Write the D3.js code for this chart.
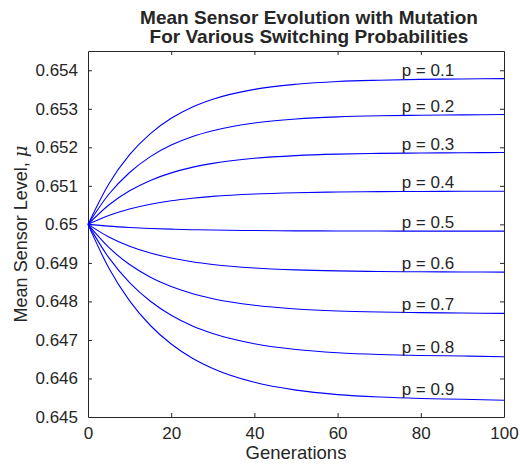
<!DOCTYPE html>
<html>
<head>
<meta charset="utf-8">
<script src="https://cdn.jsdelivr.net/npm/d3@7"></script>
<style>
  body { margin: 0; background: #fff; }
  text { font-family: "Liberation Sans", Arial, Helvetica, sans-serif; fill: #262626; }
</style>
</head>
<body>
<div id="chart"></div>
<script>
// generations sampled along each curve
const generations = [0, 5, 10, 15, 20, 25, 30, 40, 50, 60, 70, 80, 90, 100];

// mean sensor level for each switching probability
const p01 = [0.65, 0.65105, 0.651809, 0.652357, 0.652753, 0.653039, 0.653247, 0.653504, 0.653636, 0.653708, 0.653742, 0.653763, 0.653773, 0.653784];
const p02 = [0.65, 0.650781, 0.651347, 0.651759, 0.652058, 0.652275, 0.652432, 0.65263, 0.652734, 0.652789, 0.652818, 0.652833, 0.652841, 0.65285];
const p03 = [0.65, 0.650504, 0.650872, 0.65114, 0.651336, 0.651479, 0.651583, 0.651715, 0.651785, 0.651822, 0.651842, 0.651853, 0.651858, 0.651865];
const p04 = [0.65, 0.65023, 0.650398, 0.650521, 0.650612, 0.650678, 0.650727, 0.650789, 0.650822, 0.65084, 0.65085, 0.650855, 0.650858, 0.650861];
const p05 = [0.65, 0.649954, 0.64992, 0.649894, 0.649876, 0.649862, 0.649852, 0.649839, 0.649832, 0.649829, 0.649826, 0.649825, 0.649825, 0.649824];
const p06 = [0.65, 0.649674, 0.649434, 0.649257, 0.649126, 0.64903, 0.648959, 0.648868, 0.648819, 0.648792, 0.648777, 0.648769, 0.648765, 0.64876];
const p07 = [0.65, 0.649401, 0.648957, 0.648629, 0.648385, 0.648205, 0.648071, 0.647899, 0.647804, 0.647752, 0.647724, 0.647708, 0.647699, 0.647689];
const p08 = [0.65, 0.649135, 0.648487, 0.648003, 0.64764, 0.647369, 0.647166, 0.646901, 0.646752, 0.646669, 0.646622, 0.646596, 0.646582, 0.646563];
const p09 = [0.65, 0.648867, 0.648016, 0.647375, 0.646894, 0.646531, 0.646259, 0.6459, 0.645697, 0.645582, 0.645518, 0.645481, 0.64546, 0.645433];

const probLabels = ["p = 0.1", "p = 0.2", "p = 0.3", "p = 0.4", "p = 0.5", "p = 0.6", "p = 0.7", "p = 0.8", "p = 0.9"];
const seriesList = [p01, p02, p03, p04, p05, p06, p07, p08, p09];

const xTicks = [0, 20, 40, 60, 80, 100];
const yTicks = [0.645, 0.646, 0.647, 0.648, 0.649, 0.65, 0.651, 0.652, 0.653, 0.654];

const width = 520, height = 464;
const margin = {top: 51, right: 16, bottom: 47, left: 88};

const svg = d3.select("#chart").append("svg")
    .attr("width", width)
    .attr("height", height);

const x = d3.scaleLinear().domain([0, 100]).range([margin.left, width - margin.right]);
const y = d3.scaleLinear().domain([0.645, 0.6545]).range([height - margin.bottom, margin.top]);

// axes, ticks pointing inward like matlab
const tickLen = 4;
const fmt = d => d3.format("")(+d.toFixed(3));

const xAxis = svg.append("g")
    .attr("transform", `translate(0,${y.range()[0]})`)
    .call(d3.axisBottom(x).tickValues(xTicks).tickSizeInner(-tickLen).tickSizeOuter(0).tickPadding(9.5));
const xTop = svg.append("g")
    .attr("transform", `translate(0,${y.range()[1]})`)
    .call(d3.axisTop(x).tickValues(xTicks).tickSizeInner(-tickLen).tickSizeOuter(0).tickFormat(""));
const yAxis = svg.append("g")
    .attr("transform", `translate(${x.range()[0]},0)`)
    .call(d3.axisLeft(y).tickValues(yTicks).tickSizeInner(-tickLen).tickSizeOuter(0).tickPadding(10).tickFormat(fmt));
const yRight = svg.append("g")
    .attr("transform", `translate(${x.range()[1]},0)`)
    .call(d3.axisRight(y).tickValues(yTicks).tickSizeInner(-tickLen).tickSizeOuter(0).tickFormat(""));

[xAxis, xTop, yAxis, yRight].forEach(g => {
    g.select(".domain").attr("stroke", "#262626").attr("stroke-width", 1);
    g.selectAll(".tick line").attr("stroke", "#262626");
    g.selectAll(".tick text").attr("font-size", 17).attr("fill", "#262626")
        .style("font-family", '"Liberation Sans", Arial, sans-serif');
});
// remove edge ticks on the box sides (0 and 100 sit on the frame)
xTop.selectAll(".tick").filter(d => d === 0 || d === 100).remove();
xAxis.selectAll(".tick line").filter(d => d === 0 || d === 100).remove();
yRight.selectAll(".tick").filter(d => d === 0.645).remove();
yAxis.selectAll(".tick line").filter(d => d === 0.645).remove();

// curves
const line = d3.line()
    .x((d, i) => x(generations[i]))
    .y(d => y(d))
    .curve(d3.curveMonotoneX);

const plot = svg.append("g");
seriesList.forEach((s, i) => {
    plot.append("path")
        .datum(s)
        .attr("fill", "none")
        .attr("stroke", "#0000ff")
        .attr("stroke-width", 1.1)
        .attr("d", line);

    plot.append("text")
        .attr("x", x(75.4))
        .attr("y", y(s[11]) - 3)
        .attr("font-size", 17)
        .text(probLabels[i]);
});

// title
const title = svg.append("text")
    .attr("text-anchor", "middle")
    .attr("font-size", 19)
    .attr("font-weight", "bold")
    .attr("fill", "#000");
title.append("tspan").attr("x", 309).attr("y", 24).text("Mean Sensor Evolution with Mutation");
title.append("tspan").attr("x", 309).attr("y", 43).text("For Various Switching Probabilities");

// axis labels
svg.append("text")
    .attr("x", x(50))
    .attr("y", 459)
    .attr("text-anchor", "middle")
    .attr("font-size", 18.5)
    .text("Generations");

const yl = svg.append("text")
    .attr("transform", `translate(27,${(y.range()[0] + y.range()[1]) / 2}) rotate(-90)`)
    .attr("text-anchor", "middle")
    .attr("font-size", 18);
yl.append("tspan").text("Mean Sensor Level, ");
yl.append("tspan").attr("font-style", "italic").attr("font-family", "DejaVu Serif, serif").text("μ");
</script>
</body>
</html>
